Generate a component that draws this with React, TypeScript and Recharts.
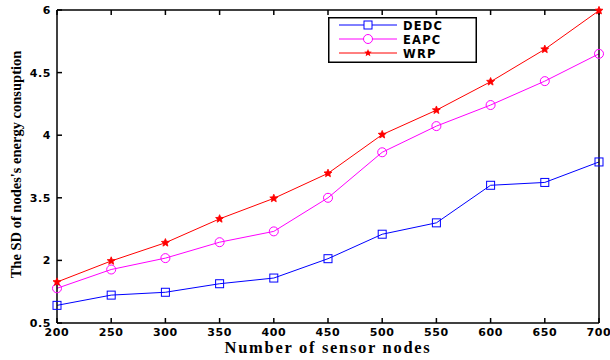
import React from 'react';
import { LineChart, Line, XAxis, YAxis, Label } from 'recharts';

const nodes = [200, 250, 300, 350, 400, 450, 500, 550, 600, 650, 700];
const dedc = [0.81, 0.99, 1.04, 1.19, 1.29, 1.63, 2.06, 2.26, 2.92, 2.97, 3.33];
const eapc = [1.11, 1.44, 1.64, 1.92, 2.11, 2.70, 3.50, 3.96, 4.33, 4.75, 5.23];
const wrp = [1.22, 1.59, 1.91, 2.33, 2.69, 3.13, 3.81, 4.24, 4.74, 5.31, 5.99];
const xTicks = [200, 250, 300, 350, 400, 450, 500, 550, 600, 650, 700];
const yTicks = [0.5, 1.6, 2.7, 3.8, 4.9, 6];
const yTickLabels = ['0.5', '2', '3.5', '4', '4.5', '6'];

const data = nodes.map((n, i) => ({ n, dedc: dedc[i], eapc: eapc[i], wrp: wrp[i] }));

const tickFont = { fontFamily: 'DejaVu Sans, Liberation Sans, sans-serif', fontWeight: 700, fontSize: 11, fill: '#000', letterSpacing: 0.6 };
const serifTitle = { fontFamily: 'Liberation Serif, Times New Roman, serif', fontWeight: 700, fill: '#000' };
const axisStroke = { stroke: '#000', strokeWidth: 1.5 };

const starPath = (cx: number, cy: number, r: number) => {
  const pts: string[] = [];
  for (let k = 0; k < 10; k++) {
    const rr = k % 2 === 0 ? r : r * 0.45;
    const a = -Math.PI / 2 + (k * Math.PI) / 5;
    pts.push(`${cx + rr * Math.cos(a)},${cy + rr * Math.sin(a)}`);
  }
  return 'M' + pts.join('L') + 'Z';
};

const SquareDot = (p: any) => (
  <rect key={`s${p.index}`} x={p.cx - 4} y={p.cy - 4} width={8} height={8} fill="none" stroke="#0000ff" strokeWidth={1} />
);
const CircleDot = (p: any) => (
  <circle key={`c${p.index}`} cx={p.cx} cy={p.cy} r={4.5} fill="none" stroke="#ff00ff" strokeWidth={1} />
);
const StarDot = (p: any) => (
  <path key={`w${p.index}`} d={starPath(p.cx, p.cy, 4.2)} fill="#ff0000" stroke="#ff0000" strokeWidth={0.8} />
);

const legendItems = [
  { name: 'DEDC', color: '#0000ff', kind: 'square' },
  { name: 'EAPC', color: '#ff00ff', kind: 'circle' },
  { name: 'WRP', color: '#ff0000', kind: 'star' },
];

const LegendBox = () => (
  <svg width={149} height={46} style={{ display: 'block' }}>
    <rect x={0.75} y={0.75} width={147.5} height={44.5} fill="#fff" stroke="#000" strokeWidth={1.5} />
    {legendItems.map((it, i) => {
      const y = 8 + i * 14;
      return (
        <g key={it.name}>
          <line x1={11} x2={69} y1={y} y2={y} stroke={it.color} strokeWidth={1} />
          {it.kind === 'square' && <rect x={36} y={y - 4} width={8} height={8} fill="#fff" stroke={it.color} />}
          {it.kind === 'circle' && <circle cx={40} cy={y} r={4.5} fill="#fff" stroke={it.color} />}
          {it.kind === 'star' && <path d={starPath(40, y, 4)} fill={it.color} />}
          <text x={75} y={y + 4.5} style={{ ...tickFont, fontSize: 11.5, letterSpacing: 1.2 }}>{it.name}</text>
        </g>
      );
    })}
  </svg>
);

const YTitle = (props: any) => {
  const vb = props.viewBox || { y: 10, height: 313 };
  const cy = vb.y + vb.height / 2 - 2;
  return (
    <text
      x={16}
      y={cy}
      transform={`rotate(-90, 16, ${cy})`}
      textAnchor="middle"
      dominantBaseline="central"
      style={{ ...serifTitle, fontSize: 14.5 }}
    >
      The SD of nodes's energy consuption
    </text>
  );
};

const XTitle = (props: any) => {
  const vb = props.viewBox || { x: 57, width: 542, y: 323 };
  const cx = vb.x + vb.width / 2;
  return (
    <text x={cx} y={353} textAnchor="middle" style={{ ...serifTitle, fontSize: 16.5, letterSpacing: 1.7 }}>
      Number of sensor nodes
    </text>
  );
};

export default function App() {
  return (
    <div style={{ position: 'absolute', left: 0, top: 0, width: 610, height: 360, background: '#fff' }}>
      <LineChart width={610} height={360} data={data} margin={{ top: 0, right: 0, bottom: 0, left: 0 }}>
        <XAxis
          dataKey="n"
          type="number"
          domain={[200, 700]}
          ticks={xTicks}
          interval={0}
          height={37}
          tickSize={-5}
          tickMargin={10}
          axisLine={axisStroke}
          tickLine={axisStroke}
          tick={tickFont}
        >
          <Label content={<XTitle />} />
        </XAxis>
        <XAxis
          xAxisId="top"
          dataKey="n"
          type="number"
          orientation="top"
          domain={[200, 700]}
          ticks={xTicks}
          interval={0}
          height={10}
          tickSize={-5}
          axisLine={axisStroke}
          tickLine={axisStroke}
          tickFormatter={() => ''}
        />
        <YAxis
          type="number"
          domain={[0.5, 6]}
          ticks={yTicks}
          interval={0}
          width={57}
          tickSize={-5}
          tickMargin={11}
          axisLine={axisStroke}
          tickLine={axisStroke}
          tick={tickFont}
          tickFormatter={(_v: any, i: number) => yTickLabels[i]}
        >
          <Label content={<YTitle />} />
        </YAxis>
        <YAxis
          yAxisId="right"
          orientation="right"
          type="number"
          domain={[0.5, 6]}
          ticks={yTicks}
          interval={0}
          width={11}
          tickSize={-5}
          axisLine={axisStroke}
          tickLine={axisStroke}
          tickFormatter={() => ''}
        />
        <Line dataKey="dedc" name="DEDC" stroke="#0000ff" strokeWidth={1} dot={SquareDot} isAnimationActive={false} />
        <Line dataKey="eapc" name="EAPC" stroke="#ff00ff" strokeWidth={1} dot={CircleDot} isAnimationActive={false} />
        <Line dataKey="wrp" name="WRP" stroke="#ff0000" strokeWidth={1} dot={StarDot} isAnimationActive={false} />
      </LineChart>
      <div style={{ position: 'absolute', left: 328, top: 17 }}>
        <LegendBox />
      </div>
    </div>
  );
}
